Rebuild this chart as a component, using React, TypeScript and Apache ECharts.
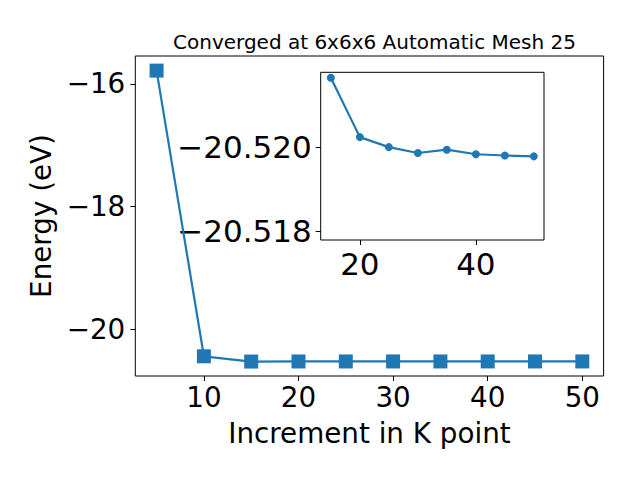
import React, { useEffect, useRef } from "react";
import * as echarts from "echarts";

const kPoints = [5, 10, 15, 20, 25, 30, 35, 40, 45, 50];
const energies = [-15.783, -20.436, -20.52166, -20.52024, -20.52, -20.51986, -20.51994, -20.51983, -20.5198, -20.51978];
const insetK = [15, 20, 25, 30, 35, 40, 45, 50];
const insetEnergies = [-20.52166, -20.52024, -20.52, -20.51986, -20.51994, -20.51983, -20.5198, -20.51978];
const mainXTicks = [10, 20, 30, 40, 50];
const mainYTicks = [-20, -18, -16];
const insetXTicks = [20, 40];
const insetYTicks = [-20.52, -20.518];

const title = "Converged at 6x6x6 Automatic Mesh 25";
const xName = "Increment in K point";
const yName = "Energy (eV)";

const BLUE = "#1f77b4";
const FONT = "DejaVu Sans";
const MAIN_FS = 27.78;
const INSET_FS = 31;

const minus = (s: string) => s.replace("-", "\u2212");

export default function App() {
  const ref = useRef<HTMLDivElement>(null);
  useEffect(() => {
    const chart = echarts.init(ref.current!, null, { renderer: "svg" });
    const axisCommon = {
      axisLine: { show: false },
      splitLine: { show: false },
      axisTick: { show: true, inside: false, length: 5, lineStyle: { color: "#000", width: 1 } },
    };
    chart.setOption({
      animation: false,
      backgroundColor: "#fff",
      title: {
        text: title,
        left: 369.5,
        top: 27,
        textAlign: "center",
        textStyle: { fontFamily: FONT, fontSize: 20, fontWeight: "normal", color: "#000" },
      },
      grid: [
        { left: 135.3, top: 56, width: 468.3, height: 320, show: true, borderColor: "#000", borderWidth: 1, backgroundColor: "#fff" },
        { left: 320.7, top: 72.3, width: 223.3, height: 167.7, show: true, borderColor: "#000", borderWidth: 1, backgroundColor: "#fff" },
      ],
      xAxis: [
        {
          ...axisCommon,
          type: "value",
          gridIndex: 0,
          min: 2.75,
          max: 52.25,
          name: xName,
          nameLocation: "middle",
          nameGap: 43,
          nameTextStyle: { fontFamily: FONT, fontSize: MAIN_FS, color: "#000" },
          axisTick: { ...axisCommon.axisTick, customValues: mainXTicks },
          axisLabel: { customValues: mainXTicks, fontFamily: FONT, fontSize: MAIN_FS, color: "#000", margin: 7 },
        },
        {
          ...axisCommon,
          type: "value",
          gridIndex: 1,
          min: 13.25,
          max: 51.75,
          axisTick: { ...axisCommon.axisTick, customValues: insetXTicks },
          axisLabel: { customValues: insetXTicks, fontFamily: FONT, fontSize: INSET_FS, color: "#000", margin: 8 },
        },
      ],
      yAxis: [
        {
          ...axisCommon,
          type: "value",
          gridIndex: 0,
          min: -20.757,
          max: -15.545,
          name: yName,
          nameLocation: "middle",
          nameGap: 79,
          nameTextStyle: { fontFamily: FONT, fontSize: MAIN_FS, color: "#000" },
          axisTick: { ...axisCommon.axisTick, customValues: mainYTicks },
          axisLabel: {
            customValues: mainYTicks,
            fontFamily: FONT,
            fontSize: MAIN_FS,
            color: "#000",
            margin: 10,
            formatter: (v: number) => minus(String(v)),
          },
        },
        {
          ...axisCommon,
          type: "value",
          gridIndex: 1,
          inverse: true,
          min: -20.52179,
          max: -20.51778,
          axisTick: { ...axisCommon.axisTick, customValues: insetYTicks },
          axisLabel: {
            customValues: insetYTicks,
            fontFamily: FONT,
            fontSize: INSET_FS,
            color: "#000",
            margin: 9,
            formatter: (v: number) => minus(v.toFixed(3)),
          },
        },
      ],
      series: [
        {
          type: "line",
          xAxisIndex: 0,
          yAxisIndex: 0,
          data: kPoints.map((k, i) => [k, energies[i]]),
          symbol: "rect",
          symbolSize: 14,
          itemStyle: { color: BLUE },
          lineStyle: { color: BLUE, width: 2.2 },
        },
        {
          type: "line",
          xAxisIndex: 1,
          yAxisIndex: 1,
          data: insetK.map((k, i) => [k, insetEnergies[i]]),
          symbol: "circle",
          symbolSize: 8,
          itemStyle: { color: BLUE },
          lineStyle: { color: BLUE, width: 2.2 },
          z: 5,
        },
      ],
    });
    return () => chart.dispose();
  }, []);
  return <div ref={ref} style={{ position: "absolute", left: 0, top: 0, width: 640, height: 480 }} />;
}
